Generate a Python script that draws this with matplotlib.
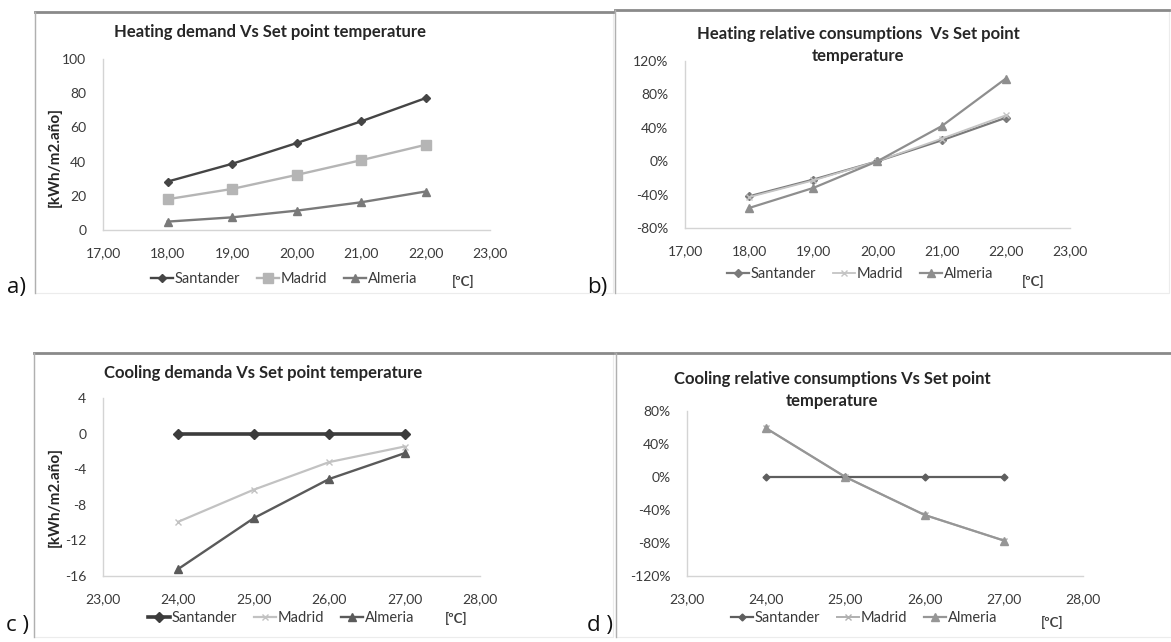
import matplotlib
matplotlib.use("Agg")
import matplotlib.pyplot as plt
from matplotlib.patches import Rectangle
from matplotlib.lines import Line2D
from matplotlib.ticker import FuncFormatter

# ---------------- data ----------------
heat_temps = [18, 19, 20, 21, 22]
heat_santander = [28.3, 38.7, 50.8, 63.5, 77.1]
heat_madrid = [18.0, 24.0, 32.2, 40.8, 49.8]
heat_almeria = [4.9, 7.4, 11.3, 16.2, 22.5]

heatrel_santander = [-42, -22, 0, 25, 52]
heatrel_madrid = [-43, -23, 0, 27, 55]
heatrel_almeria = [-56, -32, 0, 42, 99]

cool_temps = [24, 25, 26, 27]
cool_santander = [0, 0, 0, 0]
cool_madrid = [-9.9, -6.3, -3.2, -1.45]
cool_almeria = [-15.2, -9.5, -5.1, -2.2]

coolrel_santander = [0, 0, 0, 0]
coolrel_madrid = [59, 0, -46, -77]
coolrel_almeria = [59, 0, -46, -77]

series_names = ["Santander", "Madrid", "Almeria"]
titles = ["Heating demand Vs Set point temperature",
          "Heating relative consumptions  Vs Set point\ntemperature",
          "Cooling demanda Vs Set point temperature",
          "Cooling relative consumptions Vs Set point\ntemperature"]
ylabel_text = "[kWh/m2.año]"
unit_text = "[ºC]"
panel_labels = ["a)", "b)", "c )", "d )"]

# ---------------- figure ----------------
W, H = 1171, 642
fig = plt.figure(figsize=(W / 100, H / 100), dpi=100)
FONT = ["Lato", "DejaVu Sans"]
plt.rcParams["font.family"] = FONT

def fx(px):
    return px / W

def fy(py):
    return 1 - py / H

# panel frames
frames = [(35, 12, 613, 293), (615, 10, 1169, 293), (34, 353, 613, 637), (616, 353, 1171, 637)]
for (x0, y0, x1, y1) in frames:
    fig.patches.append(Rectangle((fx(x0), fy(y1)), fx(x1 - x0), (y1 - y0) / H,
                                 transform=fig.transFigure, facecolor="none",
                                 edgecolor="#ececec", linewidth=0.8, zorder=-5))
    fig.add_artist(Line2D([fx(x0), fx(x1)], [fy(y0), fy(y0)], color="#8a8a8a", lw=2.0,
                          transform=fig.transFigure, zorder=-4))
    fig.add_artist(Line2D([fx(x0), fx(x0)], [fy(y0), fy(y1)], color="#b0b0b0", lw=1.0,
                          transform=fig.transFigure, zorder=-4))

TICKC = "#3a3a3a"
comma_fmt = FuncFormatter(lambda v, p: ("%.2f" % v).replace(".", ","))
pct_fmt = FuncFormatter(lambda v, p: "%d%%" % round(v))

def setup(ax, xlim, ylim, ystep, pct=False):
    ax.set_xlim(*xlim)
    ax.set_ylim(*ylim)
    ax.set_xticks(range(xlim[0], xlim[1] + 1))
    yt = list(range(ylim[0], ylim[1] + 1, ystep))
    ax.set_yticks(yt)
    ax.xaxis.set_major_formatter(comma_fmt)
    ax.yaxis.set_major_formatter(pct_fmt if pct else FuncFormatter(lambda v, p: "%d" % round(v)))
    for s in ["top", "right"]:
        ax.spines[s].set_visible(False)
    for s in ["left", "bottom"]:
        ax.spines[s].set_color("#d4d4d4")
        ax.spines[s].set_linewidth(1.0)
    ax.tick_params(length=0, labelsize=10, colors=TICKC)
    ax.tick_params(axis="x", pad=12)
    ax.tick_params(axis="y", pad=12)
    ax.patch.set_alpha(0)

def plot3(ax, xs, ys, styles):
    for y, (name, color, marker, ms, lw) in zip(ys, styles):
        ax.plot(xs, y, color=color, marker=marker, markersize=ms, lw=lw, label=name,
                markeredgecolor=color, clip_on=False)

def legend(ax, cx, cy):
    leg = fig.legend(*ax.get_legend_handles_labels(), loc="center",
                     bbox_to_anchor=(fx(cx), fy(cy)), ncol=3, frameon=False,
                     fontsize=10.5, handlelength=1.5, handletextpad=0.1,
                     columnspacing=1.2, labelcolor=TICKC)
    return leg

TITLE_FS = 12
YLAB_FS = 11
UNIT_FS = 9.5

# ---- a ----
axa = fig.add_axes([fx(103), fy(230), fx(490 - 103), (230 - 59) / H])
setup(axa, (17, 23), (0, 100), 20)
plot3(axa, heat_temps, [heat_santander, heat_madrid, heat_almeria],
      [("Santander", "#454545", "D", 4, 1.7),
       ("Madrid", "#b5b5b5", "s", 6.5, 1.7),
       ("Almeria", "#7a7a7a", "^", 6, 1.7)])
legend(axa, 284, 279)
fig.text(fx(270), fy(32), titles[0], ha="center", va="center", fontsize=TITLE_FS,
         fontweight="bold", color="#262626")
fig.text(fx(55), fy(157), ylabel_text, rotation=90, ha="center", va="center",
         fontsize=YLAB_FS, fontweight="bold", color="#262626")
fig.text(fx(452), fy(281), unit_text, ha="left", va="center", fontsize=UNIT_FS,
         fontweight="bold", color="#404040")

# ---- b ----
axb = fig.add_axes([fx(685), fy(228), fx(1070 - 685), (228 - 61) / H])
setup(axb, (17, 23), (-80, 120), 40, pct=True)
plot3(axb, heat_temps, [heatrel_santander, heatrel_madrid, heatrel_almeria],
      [("Santander", "#7a7a7a", "D", 4, 1.6),
       ("Madrid", "#c4c4c4", "x", 5, 1.3),
       ("Almeria", "#8e8e8e", "^", 6, 1.6)])
legend(axb, 860, 274)
fig.text(fx(858), fy(45), titles[1], ha="center", va="center", fontsize=TITLE_FS,
         fontweight="bold", color="#262626", linespacing=1.45)
fig.text(fx(1022), fy(281), unit_text, ha="left", va="center", fontsize=UNIT_FS,
         fontweight="bold", color="#404040")

# ---- c ----
axc = fig.add_axes([fx(103), fy(576), fx(480 - 103), (576 - 398) / H])
setup(axc, (23, 28), (-16, 4), 4)
plot3(axc, cool_temps, [cool_santander, cool_madrid, cool_almeria],
      [("Santander", "#3c3c3c", "D", 5, 2.6),
       ("Madrid", "#c2c2c2", "x", 5, 1.6),
       ("Almeria", "#5a5a5a", "^", 6, 1.7)])
legend(axc, 281, 618)
fig.text(fx(263), fy(373), titles[2], ha="center", va="center", fontsize=TITLE_FS,
         fontweight="bold", color="#262626")
fig.text(fx(55), fy(497), ylabel_text, rotation=90, ha="center", va="center",
         fontsize=YLAB_FS, fontweight="bold", color="#262626")
fig.text(fx(445), fy(618), unit_text, ha="left", va="center", fontsize=UNIT_FS,
         fontweight="bold", color="#404040")

# ---- d ----
axd = fig.add_axes([fx(687), fy(576), fx(1083 - 687), (576 - 411) / H])
setup(axd, (23, 28), (-120, 80), 40, pct=True)
plot3(axd, cool_temps, [coolrel_santander, coolrel_madrid, coolrel_almeria],
      [("Santander", "#5e5e5e", "D", 3.5, 1.6),
       ("Madrid", "#b0b0b0", "x", 5, 1.4),
       ("Almeria", "#969696", "^", 6, 1.6)])
legend(axd, 864, 618)
fig.text(fx(832), fy(390), titles[3], ha="center", va="center", fontsize=TITLE_FS,
         fontweight="bold", color="#262626", linespacing=1.45)
fig.text(fx(1041), fy(622), unit_text, ha="left", va="center", fontsize=UNIT_FS,
         fontweight="bold", color="#404040")

# panel labels
for (lx, ly), lab in zip([(7, 287), (587, 287), (6, 625), (587, 625)], panel_labels):
    fig.text(fx(lx), fy(ly), lab, ha="left", va="center", fontsize=16,
             family=["Open Sans", "DejaVu Sans"], color="#111111")

fig.savefig("out.png", dpi=100, facecolor="white")
